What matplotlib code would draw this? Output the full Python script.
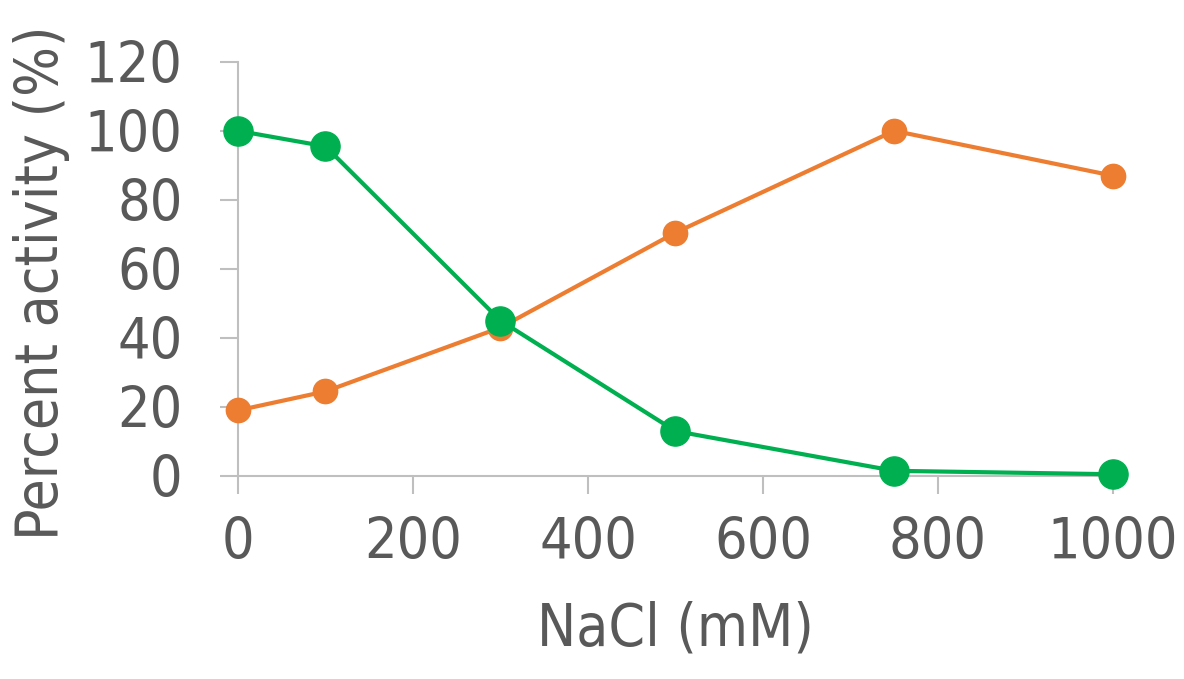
import matplotlib.pyplot as plt

# NaCl concentration (mM) and percent activity of the two enzymes
nacl = [0, 100, 300, 500, 750, 1000]
green_activity = [100, 95.5, 45, 13, 1.5, 0.5]
orange_activity = [19, 24.5, 43, 70.5, 100, 87]

x_ticks = [0, 200, 400, 600, 800, 1000]
y_ticks = [0, 20, 40, 60, 80, 100, 120]

text_color = '#595959'
axis_color = '#bfbfbf'
font = dict(family='DejaVu Sans', stretch='condensed', color=text_color)

fig = plt.figure(figsize=(11.84, 6.79), dpi=100)
ax = fig.add_axes([0.201, 0.299, 0.739, 0.610])

ax.plot(nacl, orange_activity, color='#ED7D31', lw=3, marker='o',
        markersize=17.5, clip_on=False, zorder=3)
ax.plot(nacl, green_activity, color='#00B050', lw=3, marker='o',
        markersize=21, clip_on=False, zorder=4)

ax.set_xlim(0, 1000)
ax.set_ylim(0, 120)
ax.set_xticks(x_ticks)
ax.set_yticks(y_ticks)
ax.set_xticklabels([str(t) for t in x_ticks], fontsize=41, **font)
ax.set_yticklabels([str(t) for t in y_ticks], fontsize=41, **font)

for side in ['top', 'right']:
    ax.spines[side].set_visible(False)
for side in ['left', 'bottom']:
    ax.spines[side].set_color(axis_color)
    ax.spines[side].set_linewidth(1.5)
ax.tick_params(axis='both', direction='out', length=13, width=1.5,
               color=axis_color)
ax.tick_params(axis='x', pad=16)
ax.tick_params(axis='y', pad=27)

ax.set_xlabel('NaCl (mM)', fontsize=42, **font)
ax.set_ylabel('Percent activity (%)', fontsize=42, **font)
ax.xaxis.set_label_coords(0.5, -0.30)
ax.yaxis.set_label_coords(-0.192, 0.466)

fig.savefig('out.png', dpi=100)
